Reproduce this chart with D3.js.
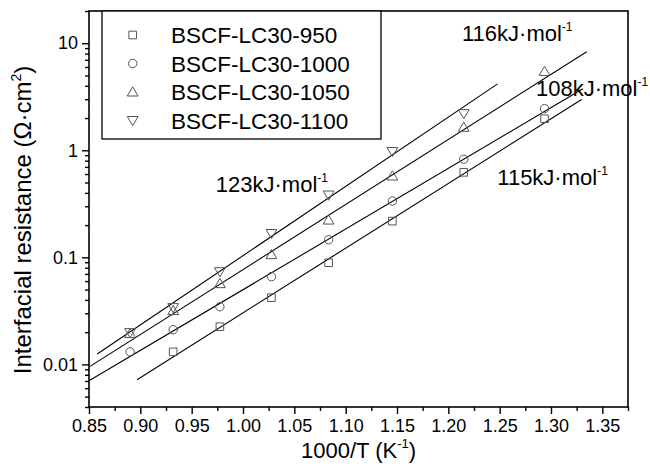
<!DOCTYPE html>
<html><head><meta charset="utf-8">
<script src="https://cdn.jsdelivr.net/npm/d3@7"></script>
<style>
html,body{margin:0;padding:0;background:#fff;}
text{font-family:"Liberation Sans",Arial,Helvetica,sans-serif;fill:#000;}
</style></head>
<body><svg id="c" width="650" height="468"></svg>
<script>
// ---- data ----
const invT = [0.890, 0.932, 0.9775, 1.0277, 1.0834, 1.1455, 1.215, 1.2937];
const seriesNames = ["BSCF-LC30-950", "BSCF-LC30-1000", "BSCF-LC30-1050", "BSCF-LC30-1100"];
const r950  = [null, 0.0131, 0.0225, 0.042, 0.089, 0.218, 0.622, 1.97];
const r1000 = [0.0131, 0.0211, 0.0346, 0.066, 0.146, 0.336, 0.825, 2.45];
const r1050 = [0.0194, 0.0318, 0.0568, 0.106, 0.223, 0.575, 1.64, 5.45];
const r1100 = [0.0198, 0.0339, 0.0734, 0.167, 0.382, 0.975, 2.20, null];
const fitX0 = [0.8968, 0.850, 0.851, 0.858];
const fitY0 = [0.0072, 0.00704, 0.00958, 0.0125];
const fitX1 = [1.3298, 1.331, 1.3348, 1.248];
const fitY1 = [2.98, 3.75, 8.31, 4.17];
const energyLabels = ["115", "108", "116", "123"];
const xTicks = [0.85, 0.90, 0.95, 1.00, 1.05, 1.10, 1.15, 1.20, 1.25, 1.30, 1.35];
const yTicks = [0.01, 0.1, 1, 10];
const yTickLabels = ["0.01", "0.1", "1", "10"];

// ---- layout ----
const W = 650, H = 468;
const m = {l: 89, r: 22, t: 11, b: 61};
const svg = d3.select("#c");
const x = d3.scaleLinear().domain([0.85, 1.375]).range([m.l, W - m.r]);
const y = d3.scaleLog().domain([0.004, 20]).range([H - m.b, m.t]);
const series = [r950, r1000, r1050, r1100];
const shapes = ["square", "circle", "up", "down"];
const markColor = "#555";

function symbolPath(shape) {
  if (shape === "square") { const s = 3.8; return `M${-s},${-s}H${s}V${s}H${-s}Z`; }
  if (shape === "circle") { const r = 4.2; return `M${r},0A${r},${r} 0 1,1 ${-r},0A${r},${r} 0 1,1 ${r},0Z`; }
  if (shape === "up") return "M0,-5.2L5.4,4L-5.4,4Z";
  return "M0,5.2L5.4,-4L-5.4,-4Z";
}

// minor ticks
const yMinor = [];
[0.001, 0.01, 0.1, 1, 10].forEach(d => { for (let k = 2; k <= 9; k++) { const v = d * k; if (v >= 0.004 && v <= 20.0001) yMinor.push(v); } });
const xMinor = xTicks.map(v => v + 0.025);

const g = svg.append("g");
// axes
const xAxis = d3.axisBottom(x).tickValues(xTicks).tickFormat(d3.format(".2f")).tickSize(7).tickPadding(5);
const xa = g.append("g").attr("transform", `translate(0,${H - m.b})`).call(xAxis);
xa.selectAll(".tick text").attr("font-size", 18);
const xm = g.append("g").attr("transform", `translate(0,${H - m.b})`).call(d3.axisBottom(x).tickValues(xMinor).tickFormat("").tickSize(4));

const yAxis = d3.axisLeft(y).tickValues(yTicks).tickFormat((d, i) => yTickLabels[i]).tickSize(7).tickPadding(4);
const ya = g.append("g").attr("transform", `translate(${m.l},0)`).call(yAxis);
ya.selectAll(".tick text").attr("font-size", 18);
const ym = g.append("g").attr("transform", `translate(${m.l},0)`).call(d3.axisLeft(y).tickValues(yMinor).tickFormat("").tickSize(4));
[xa, xm, ya, ym].forEach(a => { a.select(".domain").remove(); a.selectAll("line").attr("stroke", "#000").attr("stroke-width", 1.4); a.attr("font-family", null); });

// frame
g.append("rect").attr("x", m.l).attr("y", m.t).attr("width", W - m.r - m.l).attr("height", H - m.b - m.t)
  .attr("fill", "none").attr("stroke", "#000").attr("stroke-width", 1.6);

// fit lines
seriesNames.forEach((n, i) => {
  g.append("line").attr("x1", x(fitX0[i])).attr("y1", y(fitY0[i])).attr("x2", x(fitX1[i])).attr("y2", y(fitY1[i]))
    .attr("stroke", "#000").attr("stroke-width", 1.1);
});

// points
series.forEach((vals, i) => {
  const pts = vals.map((v, j) => ({x: invT[j], v})).filter(p => p.v != null);
  g.selectAll(null).data(pts).enter().append("path")
    .attr("d", symbolPath(shapes[i]))
    .attr("transform", p => `translate(${x(p.x)},${y(p.v)})`)
    .attr("fill", "none").attr("stroke", markColor).attr("stroke-width", 1);
});

// energy annotations (anchored in data space)
const annX = [1.2477, 1.2854, 1.2133, 0.9735];
const annY = [0.471, 3.24, 10.6, 0.411];
energyLabels.forEach((e, i) => {
  const t = g.append("text").attr("x", x(annX[i])).attr("y", y(annY[i])).attr("font-size", 22);
  t.append("tspan").text(e + "kJ\u00B7mol");
  t.append("tspan").attr("font-size", 12).attr("dy", -10).text("-1");
});

// legend
const lg = g.append("g");
const lx = 102, ly = 11, lw = 279, lh = 128;
lg.append("rect").attr("x", lx).attr("y", ly).attr("width", lw).attr("height", lh)
  .attr("fill", "#fff").attr("stroke", "#000").attr("stroke-width", 1.3);
seriesNames.forEach((n, i) => {
  const cy = 35 + i * 28.5;
  lg.append("path").attr("d", symbolPath(shapes[i])).attr("transform", `translate(132.7,${cy})`)
    .attr("fill", "none").attr("stroke", markColor).attr("stroke-width", 1);
  lg.append("text").attr("x", 171).attr("y", cy).attr("dy", "0.36em").attr("font-size", 22.5).text(n);
});

// axis titles
const xt = g.append("text").attr("x", (m.l + W - m.r) / 2).attr("y", 458).attr("text-anchor", "middle").attr("font-size", 22);
xt.append("tspan").text("1000/T (K");
xt.append("tspan").attr("font-size", 13).attr("dy", -10).text("-1");
xt.append("tspan").attr("dy", 10).text(")");

const yt = g.append("text").attr("transform", `translate(31,220) rotate(-90)`).attr("text-anchor", "middle").attr("font-size", 24);
yt.append("tspan").text("Interfacial resistance  (\u03A9\u00B7cm");
yt.append("tspan").attr("font-size", 14).attr("dy", -10).text("2");
yt.append("tspan").attr("dy", 10).text(")");
</script></body></html>
